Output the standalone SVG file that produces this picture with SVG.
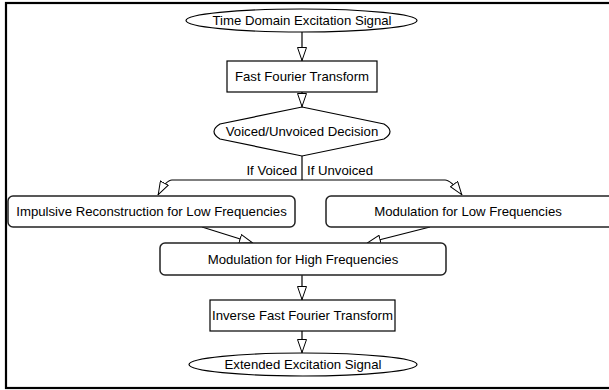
<svg xmlns="http://www.w3.org/2000/svg" width="609" height="390" viewBox="0 0 609 390">
<defs>
<marker id="arr" viewBox="0 0 14 10" refX="14" refY="5" markerWidth="14" markerHeight="10" markerUnits="userSpaceOnUse" orient="auto">
<path d="M0.5,0.5 L13.5,5 L0.5,9.5 Z" fill="#fff" stroke="#000" stroke-width="1"/>
</marker>
</defs>
<style>
text{font-family:"Liberation Sans",Arial,sans-serif;font-size:13.2px;fill:#000}
.c{text-anchor:middle}
.n{fill:#fff;stroke:#000;stroke-width:1.2}
.r{fill:#fff;stroke:#222;stroke-width:1.5}
.e{fill:none;stroke:#000;stroke-width:1.2;marker-end:url(#arr)}
</style>
<rect x="0" y="0" width="609" height="390" fill="#fff"/>
<rect x="6" y="3" width="620" height="385" fill="none" stroke="#000" stroke-width="2.2"/>
<g id="connectors">
<path class="e" d="M302,32 L302,61"/>
<path class="e" d="M302,92 L302,107"/>
<path fill="none" stroke="#000" stroke-width="1.2" d="M302,156 L302,180"/>
<path class="e" d="M302,180 L172,180 Q166,180 158,195"/>
<path class="e" d="M302,180 L445,180 Q451,180 462,195"/>
<path class="e" d="M202,227 L253,243"/>
<path class="e" d="M430,227 L367,243"/>
<path class="e" d="M302,275 L302,300"/>
<path class="e" d="M302,331 L302,353"/>
<text x="297" y="175" text-anchor="end">If Voiced</text>
<text x="307" y="175">If Unvoiced</text>
</g>
<g id="n1">
<ellipse class="n" cx="301.5" cy="20.5" rx="115.5" ry="11.5"/>
<text class="c" x="302" y="25">Time Domain Excitation Signal</text>
</g>
<g id="n2">
<rect class="n" x="227" y="61" width="150" height="31"/>
<text class="c" x="302" y="81">Fast Fourier Transform</text>
</g>
<g id="n3">
<path class="n" d="M302,107 L384,124 Q396,131.5 384,139 L302,156 L220,139 Q208,131.5 220,124 Z"/>
<text class="c" x="302" y="136">Voiced/Unvoiced Decision</text>
</g>
<g id="n4">
<rect class="r" x="8" y="196" width="287" height="31" rx="5"/>
<text class="c" x="151.5" y="216">Impulsive Reconstruction for Low Frequencies</text>
</g>
<g id="n5">
<rect class="r" x="326" y="196" width="290" height="31" rx="5"/>
<text class="c" x="468" y="216">Modulation for Low Frequencies</text>
</g>
<g id="n6">
<rect class="r" x="160" y="243" width="286" height="32" rx="5"/>
<text class="c" x="303" y="264">Modulation for High Frequencies</text>
</g>
<g id="n7">
<rect class="n" x="210" y="300" width="185" height="31"/>
<text class="c" x="302.5" y="320">Inverse Fast Fourier Transform</text>
</g>
<g id="n8">
<ellipse class="n" cx="303" cy="364.5" rx="114" ry="11.5"/>
<text class="c" x="303" y="369">Extended Excitation Signal</text>
</g>
</svg>
